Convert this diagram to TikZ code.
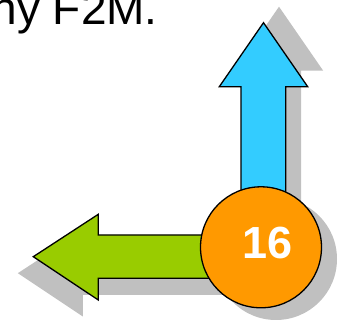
\documentclass[tikz,border=0pt]{standalone}
\usepackage{fontspec}
\setmainfont{Liberation Sans}
\definecolor{skyblue}{HTML}{33CCFF}
\definecolor{limegreen}{HTML}{99CC00}
\definecolor{ballorange}{HTML}{FF9900}
\definecolor{shadowgray}{HTML}{C0C0C0}
\begin{document}
\begin{tikzpicture}[x=1pt,y=-1pt,
  shade/.style={fill=shadowgray,draw=none},
  shape outline/.style={draw=black,line width=1.3pt,line join=miter},
]
\useasboundingbox (0,0) rectangle (338,320);
\clip (0,0) rectangle (338,320);
% title text (cut off at left/top)
\node[anchor=base west,inner sep=0pt,font=\fontsize{46}{50}\selectfont] (title) at (-8.6,25) {hy F2M.};
% shadows
\fill[shade,shift={(15.5,-16)}] (263.5,22.7) -- (307.7,86.7) -- (285.7,86.7) -- (285.7,230) -- (241,230) -- (241,86.7) -- (219.3,86.7) -- cycle;
\fill[shade,shift={(-15.5,16.5)}] (33.3,256.7) -- (98.3,214.3) -- (98.3,235) -- (250,235) -- (250,278.3) -- (98.3,278.3) -- (98.3,300) -- cycle;
\fill[shade] (276,259) circle[radius=61];
% blue arrow
\filldraw[shape outline,fill=skyblue] (263.5,22.7) -- (307.7,86.7) -- (285.7,86.7) -- (285.7,230) -- (241,230) -- (241,86.7) -- (219.3,86.7) -- cycle;
% green arrow
\filldraw[shape outline,fill=limegreen] (33.3,256.7) -- (98.3,214.3) -- (98.3,235) -- (250,235) -- (250,278.3) -- (98.3,278.3) -- (98.3,300) -- cycle;
% orange ball
\node[circle,draw=black,line width=1.3pt,fill=ballorange,minimum size=121pt,inner sep=0pt] (ball) at (261,247.3) {};
\node[font=\fontsize{45}{50}\selectfont\bfseries,text=white,inner sep=0pt] (num) at (267.5,243.3) {16};
\end{tikzpicture}
\end{document}
